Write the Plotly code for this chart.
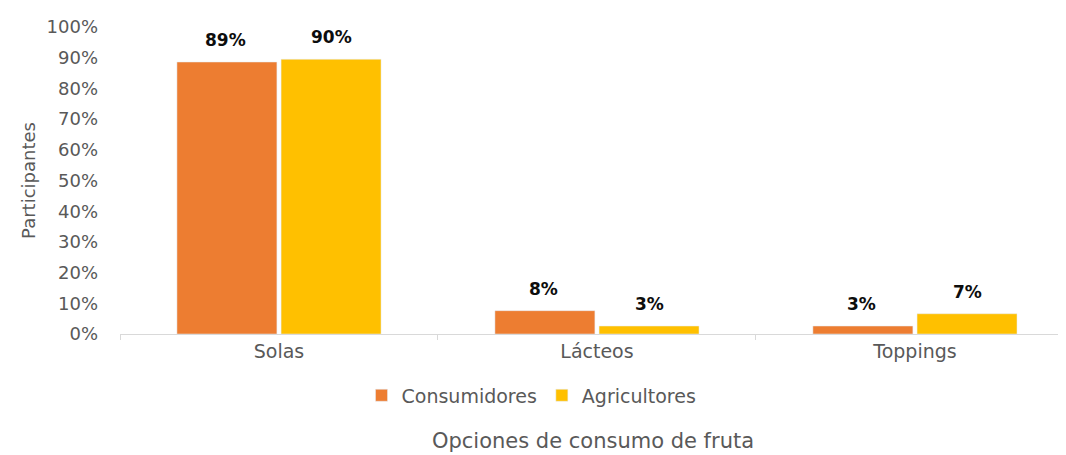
import plotly.graph_objects as go

categorias = ['Solas', 'Lácteos', 'Toppings']
consumidores = [0.886, 0.076, 0.026]
agricultores = [0.895, 0.026, 0.066]
ticks_y = [0, 0.1, 0.2, 0.3, 0.4, 0.5, 0.6, 0.7, 0.8, 0.9, 1.0]

FUENTE = 'DejaVu Sans'
GRIS = '#595959'
NARANJA = '#ED7D31'
AMARILLO = '#FFC000'

fig = go.Figure()

fig.add_trace(go.Bar(
    x=categorias,
    y=consumidores,
    name='Consumidores',
    marker=dict(color=NARANJA)
))

fig.add_trace(go.Bar(
    x=categorias,
    y=agricultores,
    name='Agricultores',
    marker=dict(color=AMARILLO)
))

# etiquetas de datos sobre cada barra (desplazadas al centro de la barra de su serie)
for serie, desplaz in [(consumidores, -53), (agricultores, 53)]:
    for cat, val in zip(categorias, serie):
        fig.add_annotation(
            x=cat, y=val,
            text=f'<b>{val:.0%}</b>',
            showarrow=False,
            xshift=desplaz, yshift=22,
            yanchor='middle',
            font=dict(family=FUENTE, size=17, color='#0d0d0d')
        )

# la página deja 8px de margen en el body: se compensa en los márgenes
fig.update_layout(
    width=1066,
    height=455,
    barmode='group',
    bargap=0.345,
    bargroupgap=0.04,
    plot_bgcolor='white',
    paper_bgcolor='white',
    font=dict(family=FUENTE, color=GRIS, size=15),
    margin=dict(l=112, r=8, t=14, b=129),
    xaxis=dict(
        title=dict(text='Opciones de consumo de fruta', font=dict(size=21, color=GRIS), standoff=72),
        showline=True,
        linecolor='#d9d9d9',
        linewidth=1,
        ticks='outside',
        tickson='boundaries',
        ticklen=5,
        tickcolor='#d9d9d9',
        tickfont=dict(size=19, color=GRIS),
        range=[-0.5, 2.475]
    ),
    yaxis=dict(
        title=dict(text='Participantes', font=dict(size=18, color=GRIS), standoff=6),
        range=[0, 1],
        tickvals=ticks_y,
        tickformat='.0%',
        showgrid=False,
        zeroline=False,
        ticklabelstandoff=21,
        tickfont=dict(size=18, color=GRIS)
    ),
    legend=dict(
        orientation='h',
        x=0.435, xanchor='center',
        y=-0.2, yanchor='middle',
        font=dict(size=19, color=GRIS),
        itemwidth=30
    ),
    showlegend=True
)

fig.write_html('out.html')
